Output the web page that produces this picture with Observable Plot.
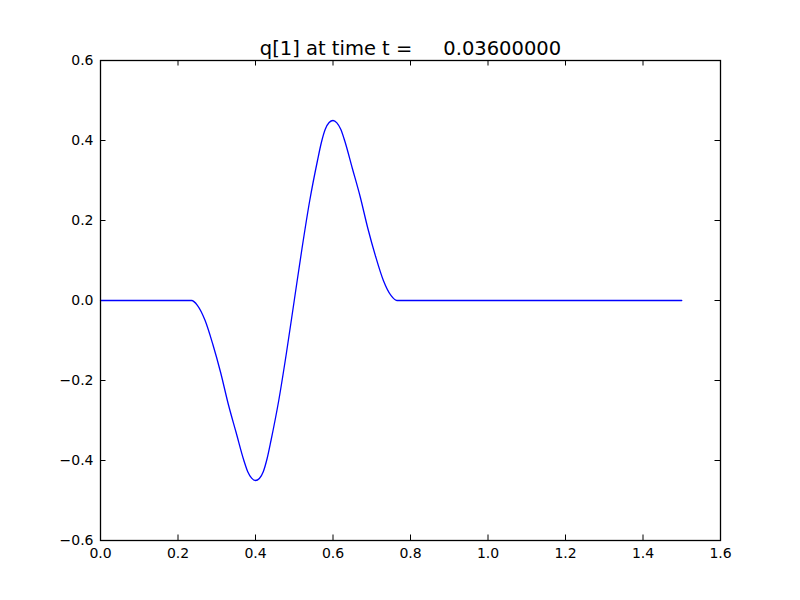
<!DOCTYPE html>
<html>
<head>
<meta charset="utf-8">
<script src="https://cdn.jsdelivr.net/npm/d3@7"></script>
<script src="https://cdn.jsdelivr.net/npm/@observablehq/plot@0.6"></script>
<style>
  html, body { margin: 0; padding: 0; background: #fff; }
  svg { white-space: pre; }
</style>
</head>
<body>
<div id="chart"></div>
<script>
const titleText = "q[1] at time t =     0.03600000";
const xValues = [0.0, 0.235, 0.25, 0.27, 0.29, 0.31, 0.33, 0.35, 0.37, 0.38, 0.39, 0.40, 0.41, 0.42, 0.43, 0.44, 0.46, 0.48, 0.50, 0.52, 0.54, 0.56, 0.57, 0.58, 0.59, 0.60, 0.61, 0.62, 0.63, 0.65, 0.67, 0.69, 0.71, 0.73, 0.75, 0.765, 1.5];
const qValues = [0, 0, -0.012, -0.05, -0.11, -0.18, -0.26, -0.33, -0.40, -0.428, -0.444, -0.45, -0.445, -0.428, -0.395, -0.35, -0.25, -0.13, 0.0, 0.13, 0.25, 0.35, 0.395, 0.428, 0.445, 0.45, 0.444, 0.428, 0.40, 0.33, 0.26, 0.18, 0.11, 0.05, 0.012, 0, 0];
const xTicks = [0.0, 0.2, 0.4, 0.6, 0.8, 1.0, 1.2, 1.4, 1.6];
const yTicks = [-0.6, -0.4, -0.2, 0.0, 0.2, 0.4, 0.6];

const data = xValues.map((x, i) => ({x, q: qValues[i]}));
const fmt = d3.format(".1f");

const W = 800, H = 600, mL = 100, mR = 80, mT = 60, mB = 60;
const fw = W - mL - mR, fh = H - mT - mB, tl = 5.5;

const chart = Plot.plot({
  width: W, height: H,
  marginLeft: mL, marginRight: mR, marginTop: mT, marginBottom: mB,
  style: {fontFamily: "DejaVu Sans", fontSize: "14px", background: "#fff", color: "#000"},
  x: {domain: [0, 1.6]},
  y: {domain: [-0.6, 0.6]},
  marks: [
    Plot.axisX(xTicks, {tickSize: 0, tickPadding: 8, tickFormat: fmt, fontSize: 14, label: null}),
    Plot.axisY(yTicks, {tickSize: 0, tickPadding: 7, tickFormat: fmt, fontSize: 14, label: null}),
    Plot.tickX(xTicks, {x: d => d, insetTop: fh - tl, stroke: "#000", strokeWidth: 1}),
    Plot.tickX(xTicks, {x: d => d, insetBottom: fh - tl, stroke: "#000", strokeWidth: 1}),
    Plot.tickY(yTicks, {y: d => d, insetRight: fw - tl, stroke: "#000", strokeWidth: 1}),
    Plot.tickY(yTicks, {y: d => d, insetLeft: fw - tl, stroke: "#000", strokeWidth: 1}),
    Plot.line(data, {x: "x", y: "q", stroke: "#0000ff", strokeWidth: 1.3, curve: "monotone-x"}),
    Plot.frame({stroke: "#000", strokeWidth: 1.3}),
    Plot.text([titleText], {frameAnchor: "top", lineAnchor: "bottom", dy: -6, fontSize: 19.5, fill: "#000", text: d => d})
  ]
});
document.getElementById("chart").appendChild(chart);
</script>
</body>
</html>
